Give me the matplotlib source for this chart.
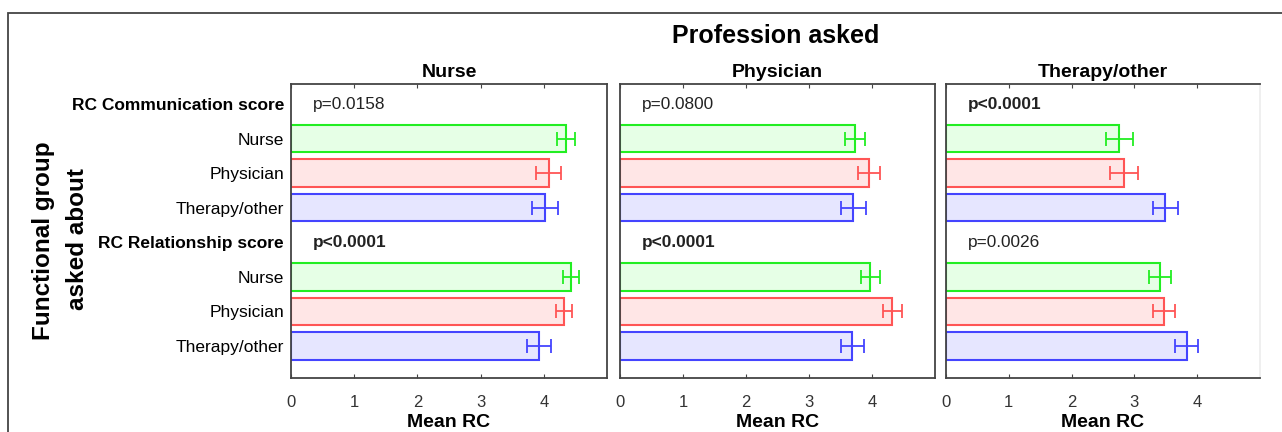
import matplotlib.pyplot as plt
from matplotlib.patches import Rectangle

plt.rcParams['font.family'] = ['Liberation Sans', 'DejaVu Sans']

# Datos
profesiones = ['Nurse', 'Physician', 'Therapy/other']
grupos = ['Nurse', 'Physician', 'Therapy/other']
escalas = ['RC Communication score', 'RC Relationship score']

# medias por panel (profesión que responde): [comunicación..., relación...]
media_nurse = [4.35, 4.08, 4.02, 4.43, 4.32, 3.92]
media_physician = [3.73, 3.95, 3.70, 3.97, 4.32, 3.69]
media_therapy = [2.76, 2.83, 3.49, 3.41, 3.47, 3.83]

err_nurse = [0.14, 0.20, 0.21, 0.12, 0.12, 0.19]
err_physician = [0.16, 0.17, 0.20, 0.15, 0.15, 0.19]
err_therapy = [0.21, 0.22, 0.20, 0.17, 0.18, 0.18]

pvalores = [['p=0.0158', 'p<0.0001'],
            ['p=0.0800', 'p<0.0001'],
            ['p<0.0001', 'p=0.0026']]

medias = [media_nurse, media_physician, media_therapy]
errores = [err_nurse, err_physician, err_therapy]

bordes = ['#22ee22', '#ff5555', '#4444ff']
rellenos = ['#e6ffe6', '#ffe6e6', '#e6e6ff']

# posiciones de filas: encabezado + 3 grupos, dos veces
filas_barras = [1, 2, 3, 5, 6, 7]
filas_titulo = [0, 4]

W, H = 1282, 432
fig = plt.figure(figsize=(W / 100, H / 100), dpi=100)

# marco exterior
fig.patches.append(Rectangle((8 / W, -0.1), 1.2, 1 - 13 / H + 0.1, transform=fig.transFigure,
                             fill=False, edgecolor='#444444', linewidth=1.3))

izq = [291, 620, 946]
der = [607, 935, 1260]
arriba, abajo = 84, 378

for k in range(3):
    ax = fig.add_axes([izq[k] / W, 1 - abajo / H, (der[k] - izq[k]) / W, (abajo - arriba) / H])
    for j, fila in enumerate(filas_barras):
        c = j % 3
        ax.barh(fila, medias[k][j], height=0.8, color=rellenos[c], edgecolor=bordes[c],
                linewidth=1.5, zorder=2)
        ax.errorbar(medias[k][j], fila, xerr=errores[k][j], color=bordes[c], capsize=5,
                    elinewidth=1.3, capthick=1.3, zorder=3)
    for s, fila in enumerate(filas_titulo):
        txt = pvalores[k][s]
        ax.text(0.35, fila, txt, fontsize=12.4, va='center', ha='left',
                fontweight='bold' if '<' in txt else 'normal', color='#222222')
    ax.set_xlim(0, 5)
    ax.set_ylim(7.93, -0.58)
    ax.set_xticks([0, 1, 2, 3, 4])
    ax.tick_params(axis='x', direction='in', length=3, top=True, labelsize=12, pad=12,
                   colors='#444444', labelcolor='#333333')
    ax.set_xlabel('Mean RC', fontsize=14, fontweight='bold', labelpad=3)
    ax.set_title(profesiones[k], fontsize=14, fontweight='bold', pad=5)
    for sp in ax.spines.values():
        sp.set_color('#444444')
        sp.set_linewidth(1.3)
    if k == 2:
        ax.spines['right'].set_color('#eeeeee')
    if k == 0:
        etiquetas = [escalas[0]] + grupos + [escalas[1]] + grupos
        ax.set_yticks(range(8))
        ax.set_yticklabels(etiquetas, fontsize=12.5)
        for i, t in enumerate(ax.get_yticklabels()):
            if i in filas_titulo:
                t.set_fontweight('bold')
        ax.tick_params(axis='y', length=0, pad=5)
    else:
        ax.set_yticks([])

fig.text(776 / W, 1 - 36 / H, 'Profession asked', fontsize=18, fontweight='bold',
         ha='center', va='center')
fig.text(44 / W, 1 - 241 / H, 'Functional group', fontsize=17.5, fontweight='bold',
         ha='center', va='center', rotation=90)
fig.text(77 / W, 1 - 239 / H, 'asked about', fontsize=17.5, fontweight='bold',
         ha='center', va='center', rotation=90)

fig.savefig('out.png', dpi=100)
